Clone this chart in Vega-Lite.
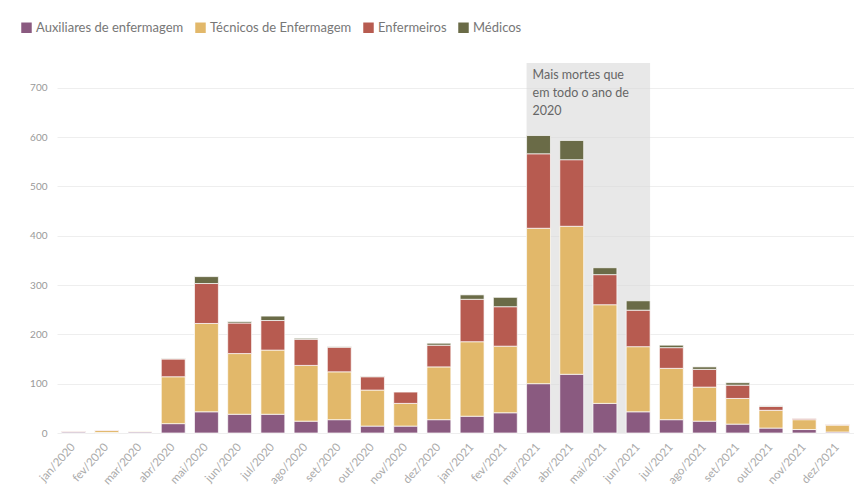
{
  "$schema": "https://vega.github.io/schema/vega-lite/v6.json",
  "autosize": {"type": "none"},
  "width": 797,
  "height": 370,
  "padding": {"left": 57, "top": 63, "right": 0, "bottom": 70},
  "background": "white",
  "config": {
    "font": "Lato",
    "view": {"stroke": null}
  },
  "datasets": {
    "ordem": [
      {"categoria": "Auxiliares de enfermagem", "pos": 1},
      {"categoria": "Técnicos de Enfermagem", "pos": 2},
      {"categoria": "Enfermeiros", "pos": 3},
      {"categoria": "Médicos", "pos": 4}
    ]
  },
  "layer": [
    {
      "data": {"values": [{"inicio": "mar/2021", "fim": "jun/2021"}]},
      "mark": {"type": "rect", "color": "#d8d8d8", "opacity": 0.6},
      "encoding": {
        "x": {"field": "inicio", "type": "ordinal", "bandPosition": 0},
        "x2": {"field": "fim", "bandPosition": 1},
        "y": {"datum": 750, "type": "quantitative"},
        "y2": {"datum": 0}
      }
    },
    {
      "data": {"values": [{"inicio": "mar/2021", "texto": "Mais mortes que\nem todo o ano de\n2020"}]},
      "mark": {"type": "text", "align": "left", "baseline": "top", "dx": 6, "dy": 6, "fontSize": 12.5, "lineHeight": 18, "color": "#666", "lineBreak": "\n"},
      "encoding": {
        "x": {"field": "inicio", "type": "ordinal", "bandPosition": 0},
        "y": {"datum": 750, "type": "quantitative"},
        "text": {"field": "texto"}
      }
    },
    {
      "data": {"values": [
        {"mes": "jan/2020", "categoria": "Auxiliares de enfermagem", "valor": 2},
        {"mes": "jan/2020", "categoria": "Técnicos de Enfermagem", "valor": 1},
        {"mes": "jan/2020", "categoria": "Enfermeiros", "valor": 1},
        {"mes": "fev/2020", "categoria": "Auxiliares de enfermagem", "valor": 1},
        {"mes": "fev/2020", "categoria": "Técnicos de Enfermagem", "valor": 4},
        {"mes": "fev/2020", "categoria": "Enfermeiros", "valor": 1},
        {"mes": "mar/2020", "categoria": "Auxiliares de enfermagem", "valor": 2},
        {"mes": "mar/2020", "categoria": "Técnicos de Enfermagem", "valor": 1},
        {"mes": "abr/2020", "categoria": "Auxiliares de enfermagem", "valor": 19},
        {"mes": "abr/2020", "categoria": "Técnicos de Enfermagem", "valor": 95},
        {"mes": "abr/2020", "categoria": "Enfermeiros", "valor": 36},
        {"mes": "abr/2020", "categoria": "Médicos", "valor": 1},
        {"mes": "mai/2020", "categoria": "Auxiliares de enfermagem", "valor": 43},
        {"mes": "mai/2020", "categoria": "Técnicos de Enfermagem", "valor": 179},
        {"mes": "mai/2020", "categoria": "Enfermeiros", "valor": 81},
        {"mes": "mai/2020", "categoria": "Médicos", "valor": 14},
        {"mes": "jun/2020", "categoria": "Auxiliares de enfermagem", "valor": 38},
        {"mes": "jun/2020", "categoria": "Técnicos de Enfermagem", "valor": 123},
        {"mes": "jun/2020", "categoria": "Enfermeiros", "valor": 62},
        {"mes": "jun/2020", "categoria": "Médicos", "valor": 3},
        {"mes": "jul/2020", "categoria": "Auxiliares de enfermagem", "valor": 38},
        {"mes": "jul/2020", "categoria": "Técnicos de Enfermagem", "valor": 130},
        {"mes": "jul/2020", "categoria": "Enfermeiros", "valor": 60},
        {"mes": "jul/2020", "categoria": "Médicos", "valor": 9},
        {"mes": "ago/2020", "categoria": "Auxiliares de enfermagem", "valor": 24},
        {"mes": "ago/2020", "categoria": "Técnicos de Enfermagem", "valor": 113},
        {"mes": "ago/2020", "categoria": "Enfermeiros", "valor": 53},
        {"mes": "ago/2020", "categoria": "Médicos", "valor": 2},
        {"mes": "set/2020", "categoria": "Auxiliares de enfermagem", "valor": 27},
        {"mes": "set/2020", "categoria": "Técnicos de Enfermagem", "valor": 97},
        {"mes": "set/2020", "categoria": "Enfermeiros", "valor": 50},
        {"mes": "set/2020", "categoria": "Médicos", "valor": 1},
        {"mes": "out/2020", "categoria": "Auxiliares de enfermagem", "valor": 14},
        {"mes": "out/2020", "categoria": "Técnicos de Enfermagem", "valor": 73},
        {"mes": "out/2020", "categoria": "Enfermeiros", "valor": 27},
        {"mes": "out/2020", "categoria": "Médicos", "valor": 1},
        {"mes": "nov/2020", "categoria": "Auxiliares de enfermagem", "valor": 14},
        {"mes": "nov/2020", "categoria": "Técnicos de Enfermagem", "valor": 46},
        {"mes": "nov/2020", "categoria": "Enfermeiros", "valor": 23},
        {"mes": "dez/2020", "categoria": "Auxiliares de enfermagem", "valor": 27},
        {"mes": "dez/2020", "categoria": "Técnicos de Enfermagem", "valor": 107},
        {"mes": "dez/2020", "categoria": "Enfermeiros", "valor": 44},
        {"mes": "dez/2020", "categoria": "Médicos", "valor": 4},
        {"mes": "jan/2021", "categoria": "Auxiliares de enfermagem", "valor": 34},
        {"mes": "jan/2021", "categoria": "Técnicos de Enfermagem", "valor": 151},
        {"mes": "jan/2021", "categoria": "Enfermeiros", "valor": 86},
        {"mes": "jan/2021", "categoria": "Médicos", "valor": 9},
        {"mes": "fev/2021", "categoria": "Auxiliares de enfermagem", "valor": 41},
        {"mes": "fev/2021", "categoria": "Técnicos de Enfermagem", "valor": 135},
        {"mes": "fev/2021", "categoria": "Enfermeiros", "valor": 80},
        {"mes": "fev/2021", "categoria": "Médicos", "valor": 19},
        {"mes": "mar/2021", "categoria": "Auxiliares de enfermagem", "valor": 100},
        {"mes": "mar/2021", "categoria": "Técnicos de Enfermagem", "valor": 315},
        {"mes": "mar/2021", "categoria": "Enfermeiros", "valor": 151},
        {"mes": "mar/2021", "categoria": "Médicos", "valor": 37},
        {"mes": "abr/2021", "categoria": "Auxiliares de enfermagem", "valor": 119},
        {"mes": "abr/2021", "categoria": "Técnicos de Enfermagem", "valor": 300},
        {"mes": "abr/2021", "categoria": "Enfermeiros", "valor": 135},
        {"mes": "abr/2021", "categoria": "Médicos", "valor": 39},
        {"mes": "mai/2021", "categoria": "Auxiliares de enfermagem", "valor": 60},
        {"mes": "mai/2021", "categoria": "Técnicos de Enfermagem", "valor": 200},
        {"mes": "mai/2021", "categoria": "Enfermeiros", "valor": 61},
        {"mes": "mai/2021", "categoria": "Médicos", "valor": 14},
        {"mes": "jun/2021", "categoria": "Auxiliares de enfermagem", "valor": 43},
        {"mes": "jun/2021", "categoria": "Técnicos de Enfermagem", "valor": 132},
        {"mes": "jun/2021", "categoria": "Enfermeiros", "valor": 74},
        {"mes": "jun/2021", "categoria": "Médicos", "valor": 19},
        {"mes": "jul/2021", "categoria": "Auxiliares de enfermagem", "valor": 27},
        {"mes": "jul/2021", "categoria": "Técnicos de Enfermagem", "valor": 104},
        {"mes": "jul/2021", "categoria": "Enfermeiros", "valor": 42},
        {"mes": "jul/2021", "categoria": "Médicos", "valor": 5},
        {"mes": "ago/2021", "categoria": "Auxiliares de enfermagem", "valor": 24},
        {"mes": "ago/2021", "categoria": "Técnicos de Enfermagem", "valor": 69},
        {"mes": "ago/2021", "categoria": "Enfermeiros", "valor": 36},
        {"mes": "ago/2021", "categoria": "Médicos", "valor": 5},
        {"mes": "set/2021", "categoria": "Auxiliares de enfermagem", "valor": 18},
        {"mes": "set/2021", "categoria": "Técnicos de Enfermagem", "valor": 52},
        {"mes": "set/2021", "categoria": "Enfermeiros", "valor": 27},
        {"mes": "set/2021", "categoria": "Médicos", "valor": 5},
        {"mes": "out/2021", "categoria": "Auxiliares de enfermagem", "valor": 10},
        {"mes": "out/2021", "categoria": "Técnicos de Enfermagem", "valor": 36},
        {"mes": "out/2021", "categoria": "Enfermeiros", "valor": 8},
        {"mes": "out/2021", "categoria": "Médicos", "valor": 1},
        {"mes": "nov/2021", "categoria": "Auxiliares de enfermagem", "valor": 7},
        {"mes": "nov/2021", "categoria": "Técnicos de Enfermagem", "valor": 20},
        {"mes": "nov/2021", "categoria": "Enfermeiros", "valor": 2},
        {"mes": "dez/2021", "categoria": "Auxiliares de enfermagem", "valor": 2},
        {"mes": "dez/2021", "categoria": "Técnicos de Enfermagem", "valor": 14},
        {"mes": "dez/2021", "categoria": "Enfermeiros", "valor": 1}
      ]},
      "transform": [
        {"lookup": "categoria", "from": {"data": {"name": "ordem"}, "key": "categoria", "fields": ["pos"]}}
      ],
      "mark": {"type": "bar", "stroke": "white", "strokeWidth": 0.7},
      "encoding": {
        "x": {"field": "mes", "type": "ordinal"},
        "y": {"field": "valor", "type": "quantitative", "stack": "zero"},
        "order": {"field": "pos", "type": "quantitative", "sort": "ascending"},
        "color": {
          "field": "categoria",
          "type": "nominal",
          "sort": ["Auxiliares de enfermagem", "Técnicos de Enfermagem", "Enfermeiros", "Médicos"],
          "scale": {
            "domain": ["Auxiliares de enfermagem", "Técnicos de Enfermagem", "Enfermeiros", "Médicos"],
            "range": ["#8a5a80", "#e2b86a", "#b75b50", "#6a6b47"]
          },
          "legend": {
            "title": null,
            "orient": "none",
            "legendX": -37,
            "legendY": -42,
            "direction": "horizontal",
            "symbolType": "square",
            "symbolSize": 110,
            "symbolStrokeWidth": 0,
            "symbolOpacity": 1,
            "labelFontSize": 13,
            "labelColor": "#777",
            "labelOffset": 3,
            "columnPadding": 10
          }
        }
      }
    }
  ],
  "encoding": {
    "x": {
      "scale": {
        "domain": ["jan/2020", "fev/2020", "mar/2020", "abr/2020", "mai/2020", "jun/2020", "jul/2020", "ago/2020", "set/2020", "out/2020", "nov/2020", "dez/2020", "jan/2021", "fev/2021", "mar/2021", "abr/2021", "mai/2021", "jun/2021", "jul/2021", "ago/2021", "set/2021", "out/2021", "nov/2021", "dez/2021"],
        "paddingInner": 0.28,
        "paddingOuter": 0.14
      },
      "axis": {
        "title": null,
        "labelAngle": -48,
        "labelColor": "#aaa",
        "labelFontSize": 11.5,
        "ticks": false,
        "domain": false,
        "labelPadding": 12
      }
    },
    "y": {
      "scale": {"domain": [0, 750]},
      "axis": {
        "title": null,
        "values": [0, 100, 200, 300, 400, 500, 600, 700],
        "grid": true,
        "gridColor": "#eeeeee",
        "domain": false,
        "ticks": false,
        "labelColor": "#999",
        "labelFontSize": 10,
        "labelPadding": 10
      }
    }
  }
}
